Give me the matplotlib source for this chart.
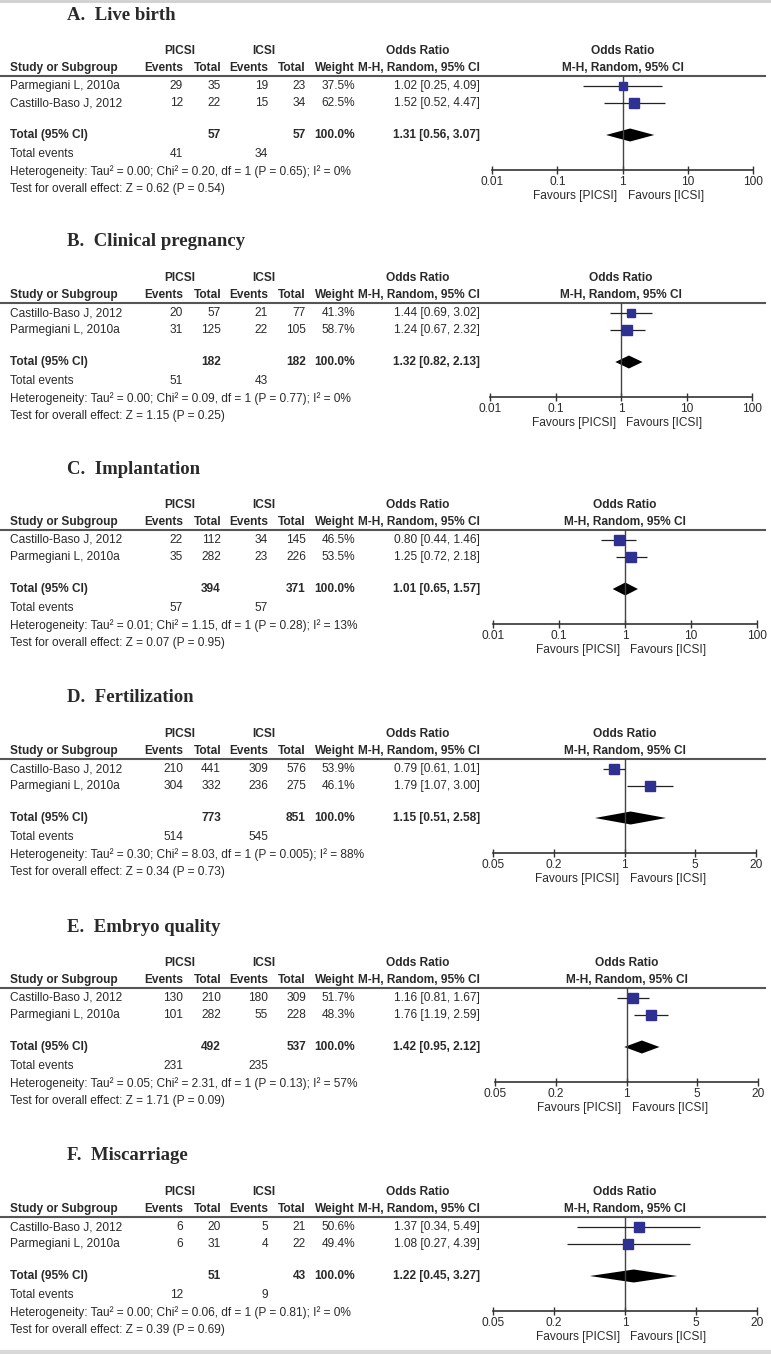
import matplotlib
matplotlib.use("Agg")
import matplotlib.pyplot as plt
from matplotlib.ticker import FixedLocator, FixedFormatter, NullLocator

# data (RevMan style forest plots)
titles = ["A.  Live birth", "B.  Clinical pregnancy", "C.  Implantation",
          "D.  Fertilization", "E.  Embryo quality", "F.  Miscarriage"]
studies = [["Parmegiani L, 2010a", "Castillo-Baso J, 2012"]] + \
          [["Castillo-Baso J, 2012", "Parmegiani L, 2010a"]] * 5
picsi_events = [[29, 12], [20, 31], [22, 35], [210, 304], [130, 101], [6, 6]]
picsi_total = [[35, 22], [57, 125], [112, 282], [441, 332], [210, 282], [20, 31]]
icsi_events = [[19, 15], [21, 22], [34, 23], [309, 236], [180, 55], [5, 4]]
icsi_total = [[23, 34], [77, 105], [145, 226], [576, 275], [309, 228], [21, 22]]
weights = [[37.5, 62.5], [41.3, 58.7], [46.5, 53.5], [53.9, 46.1], [51.7, 48.3], [50.6, 49.4]]
odds = [[1.02, 1.52], [1.44, 1.24], [0.80, 1.25], [0.79, 1.79], [1.16, 1.76], [1.37, 1.08]]
ci_low = [[0.25, 0.52], [0.69, 0.67], [0.44, 0.72], [0.61, 1.07], [0.81, 1.19], [0.34, 0.27]]
ci_high = [[4.09, 4.47], [3.02, 2.32], [1.46, 2.18], [1.01, 3.00], [1.67, 2.59], [5.49, 4.39]]
tot_picsi = [57, 182, 394, 773, 492, 51]
tot_icsi = [57, 182, 371, 851, 537, 43]
tot_or = [1.31, 1.32, 1.01, 1.15, 1.42, 1.22]
tot_low = [0.56, 0.82, 0.65, 0.51, 0.95, 0.45]
tot_high = [3.07, 2.13, 1.57, 2.58, 2.12, 3.27]
ev_picsi = [41, 51, 57, 514, 231, 12]
ev_icsi = [34, 43, 57, 545, 235, 9]
tau2 = ["0.00", "0.00", "0.01", "0.30", "0.05", "0.00"]
chi2 = ["0.20", "0.09", "1.15", "8.03", "2.31", "0.06"]
p_het = ["0.65", "0.77", "0.28", "0.005", "0.13", "0.81"]
i2 = [0, 0, 13, 88, 57, 0]
z_val = ["0.62", "1.15", "0.07", "0.34", "1.71", "0.39"]
p_z = ["0.54", "0.25", "0.95", "0.73", "0.09", "0.69"]
axis_ticks = [[0.01, 0.1, 1, 10, 100]] * 3 + [[0.05, 0.2, 1, 5, 20]] * 3
tick_labels = [["0.01", "0.1", "1", "10", "100"]] * 3 + [["0.05", "0.2", "1", "5", "20"]] * 3

W, H = 771, 1354
plt.rcParams['font.family'] = ['Liberation Sans', 'DejaVu Sans']
txt = '#2a2a2a'
blue = '#2E3192'
fs = 8.6

fig = plt.figure(figsize=(W / 100, H / 100), dpi=100)
bg = fig.add_axes([0, 0, 1, 1])
bg.set_xlim(0, W)
bg.set_ylim(H, 0)
bg.axis('off')
# faint frame lines of the scanned picture
bg.plot([0, W], [1, 1], color='#cfcfcf', lw=2)
bg.plot([0, W], [H - 2, H - 2], color='#d8d8d8', lw=3)

def t(x, y, s, ha='left', bold=False, size=fs, **kw):
    bg.text(x, y, s, ha=ha, va='center', fontsize=size, color=txt,
            fontweight='bold' if bold else 'normal', **kw)

# layout in pixels: header rule y and forest axis x-extent for each panel
line_y = [76, 303, 530, 759, 988, 1217]
axis_x = [(492, 753), (490, 752), (493, 757), (493, 756), (495, 758), (493, 757)]
axis_off = 94

for i in range(6):
    L = line_y[i]
    x0, x1 = axis_x[i]
    xc = (x0 + x1) / 2
    t(67, L - 61, titles[i], bold=True, size=13.5, family='Liberation Serif')
    # header
    t(180, L - 25, "PICSI", ha='center', bold=True)
    t(264, L - 25, "ICSI", ha='center', bold=True)
    t(418, L - 25, "Odds Ratio", ha='center', bold=True)
    t(xc, L - 25, "Odds Ratio", ha='center', bold=True)
    t(10, L - 8, "Study or Subgroup", bold=True)
    t(183, L - 8, "Events", ha='right', bold=True)
    t(221, L - 8, "Total", ha='right', bold=True)
    t(268, L - 8, "Events", ha='right', bold=True)
    t(306, L - 8, "Total", ha='right', bold=True)
    t(355, L - 8, "Weight", ha='right', bold=True)
    t(480, L - 8, "M-H, Random, 95% CI", ha='right', bold=True)
    t(xc, L - 8, "M-H, Random, 95% CI", ha='center', bold=True)
    bg.plot([0, 765], [L, L], color='#555555', lw=1.5)

    # study rows
    rows_y = [L + 10, L + 27]
    for j in range(2):
        y = rows_y[j]
        t(10, y, studies[i][j])
        t(183, y, str(picsi_events[i][j]), ha='right')
        t(221, y, str(picsi_total[i][j]), ha='right')
        t(268, y, str(icsi_events[i][j]), ha='right')
        t(306, y, str(icsi_total[i][j]), ha='right')
        t(355, y, "%.1f%%" % weights[i][j], ha='right')
        t(480, y, "%.2f [%.2f, %.2f]" % (odds[i][j], ci_low[i][j], ci_high[i][j]), ha='right')

    y = L + 59
    t(10, y, "Total (95% CI)", bold=True)
    t(221, y, str(tot_picsi[i]), ha='right', bold=True)
    t(306, y, str(tot_icsi[i]), ha='right', bold=True)
    t(355, y, "100.0%", ha='right', bold=True)
    t(480, y, "%.2f [%.2f, %.2f]" % (tot_or[i], tot_low[i], tot_high[i]), ha='right', bold=True)
    t(10, L + 78, "Total events")
    t(183, L + 78, str(ev_picsi[i]), ha='right')
    t(268, L + 78, str(ev_icsi[i]), ha='right')
    t(10, L + 96, "Heterogeneity: Tau\u00b2 = %s; Chi\u00b2 = %s, df = 1 (P = %s); I\u00b2 = %d%%"
      % (tau2[i], chi2[i], p_het[i], i2[i]))
    t(10, L + 113, "Test for overall effect: Z = %s (P = %s)" % (z_val[i], p_z[i]))
    t(xc - 5, L + 120, "Favours [PICSI]", ha='right')
    t(xc + 5, L + 120, "Favours [ICSI]", ha='left')

    # forest plot
    ax = fig.add_axes([x0 / W, 1 - (L + axis_off) / H, (x1 - x0) / W, axis_off / H])
    ax.set_xscale('log')
    ax.set_xlim(axis_ticks[i][0], axis_ticks[i][-1])
    ax.set_ylim(axis_off, 0)
    ax.patch.set_alpha(0)
    for s in ['top', 'left', 'right']:
        ax.spines[s].set_visible(False)
    ax.spines['bottom'].set_color('#333333')
    ax.spines['bottom'].set_linewidth(1.2)
    ax.yaxis.set_major_locator(NullLocator())
    ax.xaxis.set_major_locator(FixedLocator(axis_ticks[i]))
    ax.xaxis.set_major_formatter(FixedFormatter(tick_labels[i]))
    ax.xaxis.set_minor_locator(NullLocator())
    ax.tick_params(axis='x', direction='inout', length=6, width=1, colors='#333333',
                   labelsize=fs, labelcolor=txt, pad=1)
    ax.axvline(1, color='#444444', lw=1)
    for j in range(2):
        y = rows_y[j] - L
        ax.hlines(y, ci_low[i][j], ci_high[i][j], color='#222222', lw=0.9)
        side = 1.35 * weights[i][j] ** 0.5
        ax.plot(odds[i][j], y, marker='s', markersize=side * 0.72, color=blue,
                markeredgecolor=blue)
    yd = 59
    ax.fill([tot_low[i], tot_or[i], tot_high[i], tot_or[i]], [yd, yd - 6.5, yd, yd + 6.5],
            color='black', lw=0)

fig.savefig('out.png', dpi=100)
